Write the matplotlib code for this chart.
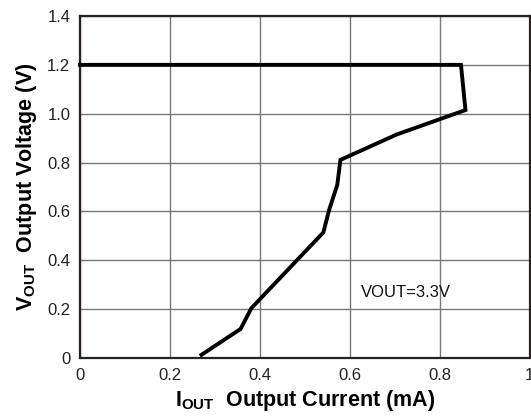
import numpy as np
from matplotlib import pyplot as plt

i_out = [0.0, 0.847, 0.857, 0.704, 0.579, 0.572, 0.554, 0.541, 0.381, 0.357, 0.270]
v_out = [1.2, 1.2, 1.015, 0.915, 0.811, 0.709, 0.607, 0.514, 0.204, 0.119, 0.013]

x_ticks = [0, 0.2, 0.4, 0.6, 0.8, 1.0]
x_labels = ['0', '0.2', '0.4', '0.6', '0.8', '1']
y_ticks = [0, 0.2, 0.4, 0.6, 0.8, 1.0, 1.2, 1.4]
y_labels = ['0', '0.2', '0.4', '0.6', '0.8', '1.0', '1.2', '1.4']

plt.rcParams['font.family'] = ['Liberation Sans', 'DejaVu Sans']
plt.rcParams['mathtext.fontset'] = 'custom'
plt.rcParams['mathtext.rm'] = 'Liberation Sans'
plt.rcParams['mathtext.bf'] = 'Liberation Sans:bold'

fig = plt.figure(figsize=(5.31, 4.16), dpi=100)
ax = fig.add_axes([0.1507, 0.1394, 0.847, 0.8221])

ax.plot(i_out, v_out, color='black', lw=2.8, solid_joinstyle='miter', clip_on=False, zorder=3)

ax.set_xlim(0, 1)
ax.set_ylim(0, 1.4)
ax.set_xticks(x_ticks)
ax.set_xticklabels(x_labels)
ax.set_yticks(y_ticks)
ax.set_yticklabels(y_labels)
ax.grid(True, color='#777777', lw=1.0)
ax.set_axisbelow(True)
ax.tick_params(length=0, labelsize=12, labelcolor='#222222')
ax.tick_params(axis='x', pad=7)
ax.tick_params(axis='y', pad=7)
for s in ax.spines.values():
    s.set_color('#2a2220')
    s.set_linewidth(1.6)

ax.text(0.625, 0.27, 'VOUT=3.3V', fontsize=12, color='#111111', va='center', ha='left')

ax.set_xlabel(r'$\mathbf{I_{OUT}}$  Output Current (mA)', fontsize=15.5, fontweight='bold', labelpad=4)
ax.set_ylabel(r'$\mathbf{V_{OUT}}$  Output Voltage (V)', fontsize=15.5, fontweight='bold', labelpad=6)

fig.savefig('out.png', dpi=100)
